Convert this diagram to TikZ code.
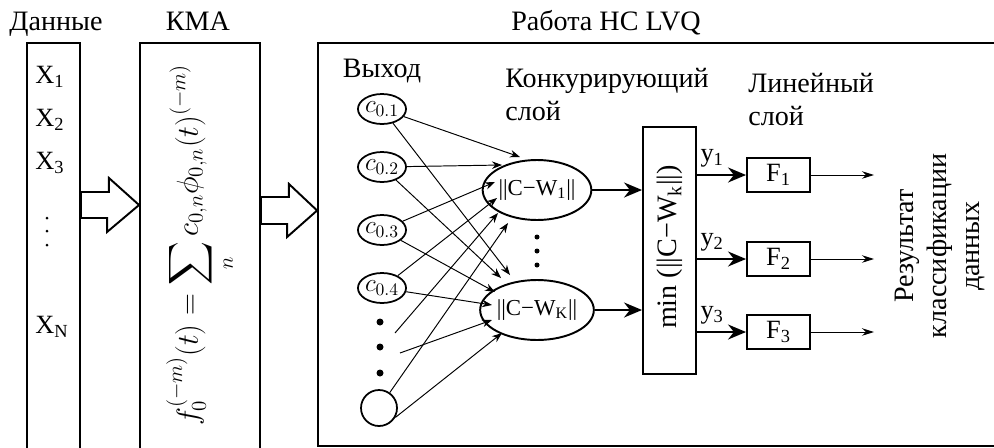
\documentclass[tikz,border=0pt]{standalone}
\usepackage{amsmath}
\usepackage{fontspec}
\setmainfont{Liberation Serif}
\usetikzlibrary{arrows.meta,positioning,calc,shapes.geometric}

\begin{document}
\begin{tikzpicture}[
  x=0.02cm, y=-0.02cm,
  frame/.style={draw, line width=1.1pt, inner sep=0pt},
  lbl/.style={font=\fontsize{16}{18.8}\selectfont, inner sep=0pt},
  xlbl/.style={font=\fontsize{15}{17}\selectfont, inner sep=0pt, anchor=west},
  inp/.style={draw, ellipse, line width=1pt, minimum width=0.8cm, minimum height=0.6cm, inner sep=0pt, font=\fontsize{14}{16}\selectfont},
  endcirc/.style={draw, circle, line width=1pt, minimum size=0.72cm, inner sep=0pt},
  neuron/.style={draw, ellipse, line width=1.1pt, minimum width=1.6cm, minimum height=1.2cm, inner sep=0pt, font=\fontsize{13}{15}\selectfont},
  fbox/.style={draw, line width=1.1pt, minimum width=1.26cm, minimum height=0.68cm, inner sep=0pt, font=\fontsize{15}{17}\selectfont},
  dot/.style={circle, fill, inner sep=0pt, minimum size=0.14cm},
  smalldot/.style={circle, fill, inner sep=0pt, minimum size=0.1cm},
  tinydot/.style={circle, fill, inner sep=0pt, minimum size=0.06cm},
  wire/.style={-{Stealth[length=2mm,width=1.5mm]}, line width=0.55pt},
  outwire/.style={-{Stealth[length=2.4mm,width=1.5mm]}, line width=0.55pt},
  bold/.style={-{Stealth[length=3.6mm,width=3mm]}, line width=1.1pt},
  hollow/.style={draw, line width=1.1pt, fill=white, line join=miter}
]
\useasboundingbox (0,0) rectangle (994,447);

% column titles
\node[lbl, anchor=base] (datalbl) at (56,30) {Данные};
\node[lbl, anchor=base] (kmalbl) at (198,30) {КМА};
\node[lbl, anchor=base] (lvqlbl) at (606,30) {Работа НС LVQ};

% frames
\node[frame, minimum width=1.06cm, minimum height=8.2cm] (data) at (53.5,248) {};
\node[frame, minimum width=2.4cm, minimum height=8.2cm] (kma) at (200,248) {};
\node[frame, minimum width=13.8cm, minimum height=8.06cm] (lvq) at (663,244.5) {};

% input data
\node[xlbl] (x1) at (35,77) {X\textsubscript{1}};
\node[xlbl] (x2) at (35,120) {X\textsubscript{2}};
\node[xlbl] (x3) at (35,163) {X\textsubscript{3}};
\node[tinydot] (xd1) at (47,218) {};
\node[tinydot] (xd2) at (47,231) {};
\node[tinydot] (xd3) at (47,245) {};
\node[xlbl] (xn) at (35,327) {X\textsubscript{N}};

% KMA formula
\node[rotate=90, font=\fontsize{17.5}{20}\selectfont] (formula) at (201,245)
  {$f_0^{(-m)}(t)=\displaystyle\sum_n c_{0,n}\phi_{0,n}(t)^{(-m)}$};

% block arrows
\draw[hollow] (data.east |- 0,192) -- ++(28,0) -- ++(0,-14) -- (kma.west |- 0,205)
  -- ++(-32,27) -- ++(0,-14) -- (data.east |- 0,218) -- cycle;
\draw[hollow] (kma.east |- 0,197) -- ++(28,0) -- ++(0,-13) -- (lvq.west |- 0,210.5)
  -- ++(-30,26.5) -- ++(0,-13) -- (kma.east |- 0,224) -- cycle;

% layer titles
\node[lbl, anchor=base] (outlbl) at (382,77) {Выход};
\node[lbl, anchor=north west, align=left] (complbl) at (505,68) {Конкурирующий\\слой};
\node[lbl, anchor=north west, align=left] (linlbl) at (748,73) {Линейный\\слой};

% output neurons of KMA
\node[inp] (c1) at (382,109) {$c_{0.1}$};
\node[inp] (c2) at (382,167) {$c_{0.2}$};
\node[inp] (c3) at (382,230) {$c_{0.3}$};
\node[inp] (c4) at (382,288) {$c_{0.4}$};
\node[dot] (cd1) at (380,322) {};
\node[dot] (cd2) at (380,347) {};
\node[dot] (cd3) at (380,373) {};
\node[endcirc] (cn) at (379,408) {};
\coordinate (d1) at (395,333);
\coordinate (d2) at (400,353);

% competitive layer
\node[neuron] (w1) at (537,190) {\textbar\textbar C−W\textsubscript{1}\textbar\textbar};
\node[neuron] (wk) at (537,310) {\textbar\textbar C−W\textsubscript{K}\textbar\textbar};
\node[smalldot] (wd1) at (537,237) {};
\node[smalldot] (wd2) at (537,251) {};
\node[smalldot] (wd3) at (537,265) {};

\draw[wire] (c1) -- ($(w1)+(-17,-33)$);
\draw[wire] (c2) -- ($(w1)+(-35,-25)$);
\draw[wire] (c3) -- ($(w1)+(-42,-8)$);
\draw[wire] (c4) -- ($(w1)+(-40,8)$);
\draw[wire] (d1) -- ($(w1)+(-39,23)$);
\draw[wire] (cn) -- ($(w1)+(-29,33)$);
\draw[wire] (c1) -- ($(wk)+(-27,-35)$);
\draw[wire] (c2) -- ($(wk)+(-36,-32)$);
\draw[wire] (c3) -- ($(wk)+(-42,-18)$);
\draw[wire] (c4) -- ($(wk)+(-45,-5)$);
\draw[wire] (d2) -- ($(wk)+(-45,10)$);
\draw[wire] (cn.-30) -- ($(wk)+(-35,23)$);

% min block
\node[frame, minimum width=1.06cm, minimum height=4.94cm] (minb) at (669.5,250.5) {};
\node[lbl, rotate=90] (mintxt) at (670,247) {min (\textbar\textbar C−W\textsubscript{k}\textbar\textbar)};
\draw[bold] (w1.east) -- (w1.east -| minb.west);
\draw[bold] (wk.east) -- (wk.east -| minb.west);

% linear layer
\node[fbox] (f1) at (778.5,175) {F\textsubscript{1}};
\node[fbox] (f2) at (778.5,259) {F\textsubscript{2}};
\node[fbox] (f3) at (778.5,332) {F\textsubscript{3}};
\draw[bold] (f1 -| minb.east) -- node[xlbl, anchor=south, above=4pt, pos=0.31] (y1) {y\textsubscript{1}} (f1.west);
\draw[bold] (f2 -| minb.east) -- node[xlbl, anchor=south, above=4pt, pos=0.31] (y2) {y\textsubscript{2}} (f2.west);
\draw[bold] (f3 -| minb.east) -- node[xlbl, anchor=south, above=4pt, pos=0.31] (y3) {y\textsubscript{3}} (f3.west);

\coordinate (o1) at (874,175);
\coordinate (o2) at (874,259);
\coordinate (o3) at (874,332);
\draw[outwire] (f1.east) -- (o1);
\draw[outwire] (f2.east) -- (o2);
\draw[outwire] (f3.east) -- (o3);

\node[lbl, rotate=90, align=center] (result) at (940,246) {Результат\\классификации\\данных};
\end{tikzpicture}
\end{document}
